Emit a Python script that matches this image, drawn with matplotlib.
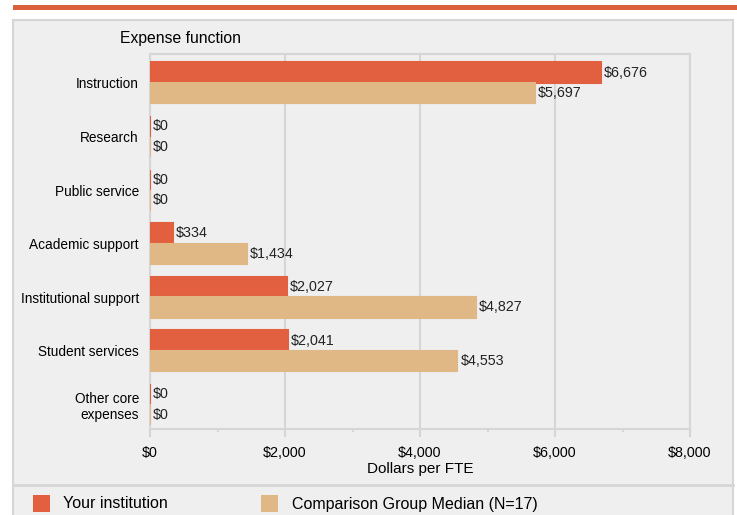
import numpy as np
import matplotlib.pyplot as plt
from matplotlib.patches import Rectangle
from matplotlib.lines import Line2D

plt.rcParams['font.family'] = ['Liberation Sans', 'DejaVu Sans']

# datos
categorias = ["Instruction", "Research", "Public service", "Academic support",
              "Institutional support", "Student services", "Other core\nexpenses"]
tu_institucion = [6676, 0, 0, 334, 2027, 2041, 0]
mediana_grupo = [5697, 0, 0, 1434, 4827, 4553, 0]
ticks_x = [0, 2000, 4000, 6000, 8000]

naranja = '#e2603f'
beige = '#dfb886'
fondo = '#efefef'
borde = '#d6d6d6'

fig = plt.figure(figsize=(7.37, 5.15), dpi=100)
W, H = 737, 515

def fx(px):
    return px / W

def fy(py):
    return 1 - py / H

# linea naranja superior y panel gris
fig.add_artist(Rectangle((fx(13), fy(9.5)), 1, 4.5 / H, transform=fig.transFigure,
                         color='#d9603b', lw=0, zorder=-2))
fig.add_artist(Rectangle((fx(13), fy(520)), fx(720), 500 / H, transform=fig.transFigure,
                         facecolor=fondo, edgecolor=borde, lw=1.5, zorder=-2))
fig.add_artist(Line2D([fx(13), fx(733)], [fy(485), fy(485)], transform=fig.transFigure,
                      color=borde, lw=2, zorder=-1))

ax = fig.add_axes([fx(150), fy(429), fx(540), (429 - 54) / H])
ax.set_facecolor(fondo)

y = np.arange(len(categorias))
alto = 0.383
ax.barh(y - alto / 2, tu_institucion, height=alto, color=naranja, edgecolor=naranja,
        lw=1.5, zorder=3)
ax.barh(y + alto / 2, mediana_grupo, height=alto, color=beige, edgecolor=beige,
        lw=1.5, zorder=3)

for i in range(len(categorias)):
    ax.text(tu_institucion[i] + 45, y[i] - alto / 2, "${:,}".format(tu_institucion[i]),
            va='center', ha='left', fontsize=10.3, color='#222222')
    ax.text(mediana_grupo[i] + 45, y[i] + alto / 2, "${:,}".format(mediana_grupo[i]),
            va='center', ha='left', fontsize=10.3, color='#222222')

ax.set_xlim(0, 8000)
ax.set_ylim(6.46, -0.54)
ax.set_yticks(y)
ax.set_yticklabels(categorias, fontsize=9.8, ha='right', multialignment='right')
ax.set_xticks(ticks_x)
ax.set_xticklabels(["${:,}".format(t) for t in ticks_x], fontsize=10.3)
ax.set_xticks([1000, 3000, 5000, 7000], minor=True)
ax.tick_params(axis='y', length=0, pad=8)
ax.tick_params(axis='x', which='major', length=6, color=borde, width=1.5, pad=6, direction='out')
ax.tick_params(axis='x', which='minor', length=2.5, color=borde, width=1.5, direction='out')
ax.grid(axis='x', color=borde, lw=1.5)
ax.set_axisbelow(True)
for s in ax.spines.values():
    s.set_color(borde)
    s.set_linewidth(1.5)
ax.set_xlabel("Dollars per FTE", fontsize=11, labelpad=2)

fig.text(fx(120), fy(38), "Expense function", fontsize=11.3, va='center', ha='left')

# leyenda
fig.add_artist(Rectangle((fx(33), fy(512)), fx(17), 17 / H, transform=fig.transFigure,
                         color=naranja, lw=0))
fig.text(fx(63), fy(504), "Your institution", fontsize=11.5, va='center')
fig.add_artist(Rectangle((fx(261), fy(512)), fx(17), 17 / H, transform=fig.transFigure,
                         color=beige, lw=0))
fig.text(fx(292), fy(504), "Comparison Group Median (N=17)", fontsize=11.5, va='center')

fig.savefig("out.png", dpi=100)
